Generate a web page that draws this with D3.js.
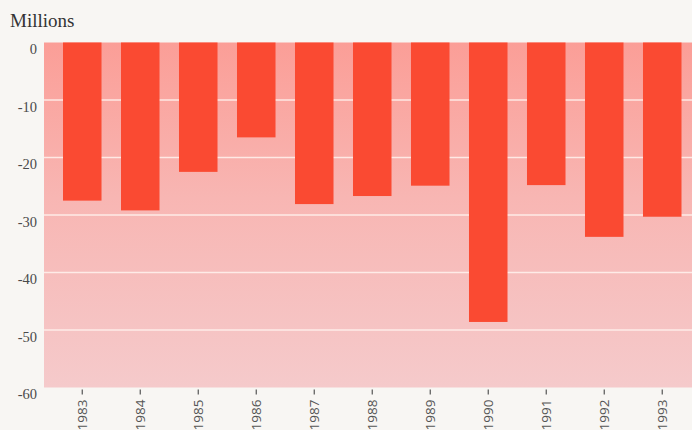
<!DOCTYPE html>
<html><head><meta charset="utf-8">
<script src="https://cdn.jsdelivr.net/npm/d3@7"></script>
<style>
html,body{margin:0;padding:0;background:#f8f6f3;}
svg{display:block;}
</style></head>
<body>
<svg id="chart" width="692" height="430"></svg>
<script>
const years = ["1983","1984","1985","1986","1987","1988","1989","1990","1991","1992","1993"];
const values = [-27.5, -29.2, -22.5, -16.5, -28.1, -26.7, -24.9, -48.6, -24.8, -33.8, -30.3];
const yTicks = [0, -10, -20, -30, -40, -50, -60];
const yLabel = "Millions";

(function(){
const svg = d3.select("#chart");
const W = 692, H = 430;
const mLeft = 44, mTop = 42.5, mBottom = 387.5;

const y = d3.scaleLinear().domain([0, -60]).range([mTop, mBottom]);
const x = d3.scaleBand().domain(years).range([mLeft, 700.5]).paddingInner(0.336).paddingOuter(0.3276);

const defs = svg.append("defs");
const grad = defs.append("linearGradient").attr("id","bg").attr("x1",0).attr("y1",0).attr("x2",0).attr("y2",1);
grad.append("stop").attr("offset","0%").attr("stop-color","#fb9e97");
grad.append("stop").attr("offset","45%").attr("stop-color","#f8b6b3");
grad.append("stop").attr("offset","100%").attr("stop-color","#f5cacb");

svg.append("rect").attr("x", mLeft).attr("y", mTop).attr("width", W - mLeft).attr("height", mBottom - mTop).attr("fill","url(#bg)");

// gridlines
svg.append("g").selectAll("line").data(yTicks.filter(d => d !== 0 && d !== -60)).join("line")
  .attr("x1", mLeft).attr("x2", W).attr("y1", d => y(d)).attr("y2", d => y(d))
  .attr("stroke", "#fff3ef").attr("stroke-opacity", 0.85).attr("stroke-width", 1.3);

// bars
svg.append("g").selectAll("rect").data(years).join("rect")
  .attr("x", d => x(d)).attr("width", x.bandwidth())
  .attr("y", y(0)).attr("height", (d,i) => y(values[i]) - y(0))
  .attr("fill", "#fa4a32");

// y axis labels
const yAxis = d3.axisLeft(y).tickValues(yTicks).tickSize(0).tickPadding(7).tickFormat(d => d);
const ya = svg.append("g").attr("transform", `translate(${mLeft},0)`).call(yAxis);
ya.select(".domain").remove();
ya.selectAll("text").style("font-family","'Liberation Serif', 'DejaVu Serif', serif").style("font-size","14.5px")
  .attr("fill","#4a4a4a").attr("dy","0.78em").attr("x", -7);

// x axis
const xAxis = d3.axisBottom(x).tickSize(0).tickPadding(0);
const xa = svg.append("g").attr("transform", `translate(0,${mBottom})`).call(xAxis);
xa.select(".domain").remove();
xa.selectAll(".tick line").remove();
xa.selectAll(".tick").append("line").attr("x1",0).attr("x2",0).attr("y1",2).attr("y2",7).attr("stroke","#555").attr("stroke-width",1.2);
xa.selectAll("text").style("font-family","'Open Sans', sans-serif").style("font-size","13.5px").attr("fill","#555")
  .attr("transform","rotate(-90)").attr("text-anchor","end").attr("x",-12).attr("y",0).attr("dy","0.35em");

svg.append("text").attr("x", 10).attr("y", 27).text(yLabel)
  .style("font-family","'Liberation Serif', serif").style("font-size","19px").attr("fill","#333");
})();
</script>
</body></html>
